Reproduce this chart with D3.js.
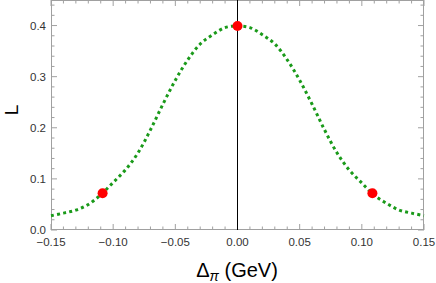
<!DOCTYPE html>
<html>
<head>
<meta charset="utf-8">
<script src="https://cdn.jsdelivr.net/npm/d3@7"></script>
<style>
  body { margin: 0; background: #fff; }
  svg { font-family: "Liberation Sans", Arial, sans-serif; }
</style>
</head>
<body>
<script>
// curve
var xVals = [-0.15, -0.14, -0.13, -0.12, -0.11, -0.10, -0.09, -0.08, -0.07, -0.06, -0.05, -0.04, -0.03, -0.02, -0.01, 0.00,
             0.01, 0.02, 0.03, 0.04, 0.05, 0.06, 0.07, 0.08, 0.09, 0.10, 0.11, 0.12, 0.13, 0.14, 0.15];
var yVals = [0.028, 0.033, 0.039, 0.050, 0.069, 0.093, 0.118, 0.151, 0.196, 0.246, 0.293, 0.333, 0.364, 0.382, 0.396, 0.399,
             0.396, 0.382, 0.364, 0.333, 0.293, 0.246, 0.196, 0.151, 0.117, 0.092, 0.068, 0.052, 0.039, 0.033, 0.028];
var dotX = [-0.1085, 0.0, 0.1085];
var dotY = [0.072, 0.399, 0.072];
var xTicks = [-0.15, -0.10, -0.05, 0.00, 0.05, 0.10, 0.15];
var yTicks = [0.0, 0.1, 0.2, 0.3, 0.4];

var W = 436, H = 283;
var margin = {top: 0, right: 12, bottom: 53, left: 51};

var svg = d3.select("body").append("svg")
    .attr("width", W)
    .attr("height", H);

var x = d3.scaleLinear().domain([-0.15, 0.15]).range([margin.left, W - margin.right]);
var y = d3.scaleLinear().domain([0, 0.45]).range([H - margin.bottom, margin.top]);

var frameCol = "#a0a0a0";

// ticks, inward on all four sides
var xMinor = d3.range(-15, 16).map(function(d){ return d / 100; });
var yMinor = d3.range(0, 23).map(function(d){ return d * 0.02; }).filter(function(d){ return d <= 0.45; });

function isMajor(v, step) { return Math.abs(v / step - Math.round(v / step)) < 1e-6; }

var g = svg.append("g");
xMinor.forEach(function(v){
    var len = isMajor(v, 0.05) ? 6 : 3.5;
    g.append("line").attr("x1", x(v)).attr("x2", x(v))
        .attr("y1", y(0)).attr("y2", y(0) - len)
        .attr("stroke", frameCol).attr("stroke-width", 1);
    g.append("line").attr("x1", x(v)).attr("x2", x(v))
        .attr("y1", y(0.45)).attr("y2", y(0.45) + len)
        .attr("stroke", frameCol).attr("stroke-width", 1);
});
yMinor.forEach(function(v){
    var len = isMajor(v, 0.1) ? 6 : 3.5;
    g.append("line").attr("y1", y(v)).attr("y2", y(v))
        .attr("x1", x(-0.15)).attr("x2", x(-0.15) + len)
        .attr("stroke", frameCol).attr("stroke-width", 1);
    g.append("line").attr("y1", y(v)).attr("y2", y(v))
        .attr("x1", x(0.15)).attr("x2", x(0.15) - len)
        .attr("stroke", frameCol).attr("stroke-width", 1);
});

// frame
svg.append("rect")
    .attr("x", x(-0.15) + 0.5)
    .attr("y", y(0.45) + 0.5)
    .attr("width", x(0.15) - x(-0.15) - 1)
    .attr("height", y(0) - y(0.45) - 1)
    .attr("fill", "none")
    .attr("stroke", frameCol)
    .attr("stroke-width", 1);

// tick labels
svg.selectAll(".xl").data(xTicks).enter().append("text")
    .attr("x", function(d){ return x(d); })
    .attr("y", y(0) + 16)
    .attr("text-anchor", "middle")
    .attr("font-size", 11.5)
    .attr("fill", "#333")
    .text(function(d){ return d3.format(".2f")(d).replace("-", "\u2212"); });

svg.selectAll(".yl").data(yTicks).enter().append("text")
    .attr("x", x(-0.15) - 5)
    .attr("y", function(d){ return y(d) + 4; })
    .attr("text-anchor", "end")
    .attr("font-size", 11.5)
    .attr("fill", "#333")
    .text(function(d){ return d3.format(".1f")(d); });

// vertical line at zero
svg.append("line")
    .attr("x1", x(0)).attr("x2", x(0))
    .attr("y1", y(0)).attr("y2", y(0.45))
    .attr("stroke", "#000")
    .attr("stroke-width", 1);

// dotted curve
var pts = xVals.map(function(d, i){ return [d, yVals[i]]; });
var line = d3.line()
    .x(function(d){ return x(d[0]); })
    .y(function(d){ return y(d[1]); })
    .curve(d3.curveCatmullRom);

svg.append("path")
    .datum(pts)
    .attr("d", line)
    .attr("fill", "none")
    .attr("stroke", "#1a9a1a")
    .attr("stroke-width", 3)
    .attr("stroke-dasharray", "3,3.2");

// red points
svg.selectAll(".pt").data(dotX).enter().append("circle")
    .attr("cx", function(d){ return x(d); })
    .attr("cy", function(d, i){ return y(dotY[i]); })
    .attr("r", 5)
    .attr("fill", "#ff0000");

// axis labels
svg.append("text")
    .attr("transform", "translate(17.5,110) rotate(-90)")
    .attr("text-anchor", "middle")
    .attr("font-size", 19)
    .attr("fill", "#000")
    .text("L");

var xl = svg.append("text")
    .attr("x", 237)
    .attr("y", 277)
    .attr("text-anchor", "middle")
    .attr("font-size", 20)
    .attr("fill", "#000");
xl.append("tspan").text("\u0394");
xl.append("tspan").attr("font-size", 14).attr("font-style", "italic").attr("dy", 4).text("\u03c0");
xl.append("tspan").attr("dy", -4).text(" (GeV)");
</script>
</body>
</html>
